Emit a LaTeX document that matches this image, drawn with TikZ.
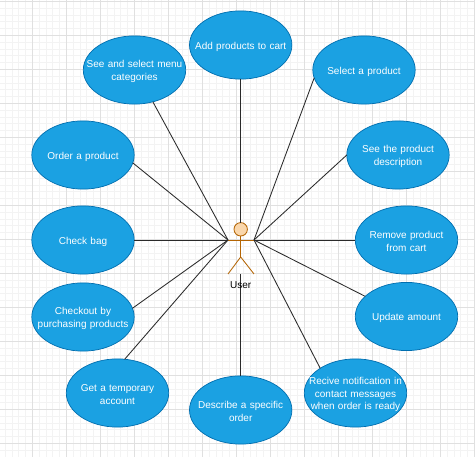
\documentclass[tikz,border=0pt]{standalone}
\usepackage{fontspec}
\setmainfont{Liberation Sans}
\usetikzlibrary{shapes.geometric}
\definecolor{ucfill}{HTML}{1BA1E2}
\definecolor{ucline}{HTML}{006EAF}
\definecolor{actfill}{HTML}{FAD7AC}
\definecolor{actline}{HTML}{B46504}
\definecolor{gridminor}{HTML}{F3F3F3}
\definecolor{gridmajor}{HTML}{E0E0E0}
\definecolor{conn}{HTML}{2A2A2A}
\tikzset{
  x=1pt,y=-1pt,
  usecase/.style={shape=ellipse,draw=ucline,fill=ucfill,line width=0.7pt,text=white,
    minimum width=102.4pt,minimum height=68.2pt,text width=110pt,align=center,
    inner xsep=-19pt,inner ysep=0pt,outer sep=0pt,
    execute at begin node={\mbox{}\\[-2.4pt]},
    font=\fontsize{10}{12.8}\selectfont},
  link/.style={draw=conn,line width=0.85pt},
  actorline/.style={draw=actline,line width=0.85pt},
}
\begin{document}
\begin{tikzpicture}
\useasboundingbox (0,0) rectangle (475,457);
\fill[white] (0,0) rectangle (475,457);
% grid
\foreach \i in {0,...,70} {
  \pgfmathsetmacro{\gx}{-1.7+6.8*\i}
  \pgfmathsetmacro{\gy}{1.3+6.8*\i}
  \draw[gridminor,line width=0.6pt] (\gx,0) -- (\gx,457);
  \draw[gridminor,line width=0.6pt] (0,\gy) -- (475,\gy);
}
\foreach \i in {0,...,14} {
  \pgfmathsetmacro{\gx}{-1.7+34*\i}
  \pgfmathsetmacro{\gy}{1.3+34*\i}
  \draw[gridmajor,line width=0.7pt] (\gx,0) -- (\gx,457);
  \draw[gridmajor,line width=0.7pt] (0,\gy) -- (475,\gy);
}
% use cases
\node[usecase] (add) at (240.7,45) {Add products to cart};
\node[usecase] (menu) at (134.5,70) {See and select menu\\categories};
\node[usecase] (select) at (364,70) {Select a product};
\node[usecase] (desc) at (398,155) {See the product\\description};
\node[usecase] (order) at (83,155) {Order a product};
\node[usecase] (bag) at (83,240) {Check bag};
\node[usecase] (remove) at (406.5,240) {Remove product\\from cart};
\node[usecase] (update) at (406.5,316.5) {Update amount};
\node[usecase] (checkout) at (83,317) {Checkout by\\purchasing products};
\node[usecase] (temp) at (117.5,393) {Get a temporary\\account};
\node[usecase] (notify) at (355.5,393) {Recive notification in\\contact messages\\when order is ready};
\node[usecase] (specific) at (240.7,410) {Describe a specific\\order};
% actor
\node[circle,draw=actline,fill=actfill,line width=0.85pt,minimum size=13.4pt,inner sep=0pt,outer sep=0pt] (head) at (240.7,229.3) {};
\coordinate (hip) at (240.7,257);
\coordinate (armL) at (228,240);
\coordinate (armR) at (254,240);
\coordinate (footL) at (228,274);
\coordinate (footR) at (254,274);
\coordinate (base) at (240.7,274);
\draw[actorline] (head.south) -- (hip);
\draw[actorline] (armL) -- (armR);
\draw[actorline] (footL) -- (hip) -- (footR);
% connectors
\draw[link] (menu.-60.6) -- (armL);
\draw[link] (order.-9) -- (armL);
\draw[link] (bag.east) -- (armL);
\draw[link] (checkout.10) -- (armL);
\draw[link] (temp.78) -- (armL);
\draw[link] (add.south) -- (head.north);
\draw[link] (specific.north) -- (base);
\draw[link] (select.-171) -- (armR);
\draw[link] (desc.west) -- (armR);
\draw[link] (remove.west) -- (armR);
\draw[link] (update.154.5) -- (armR);
\draw[link] (notify.145.6) -- (armR);
\node[inner sep=0pt,outer sep=0pt,font=\fontsize{10}{12.8}\selectfont,text=black] (user) at (240.7,285.5) {User};
\end{tikzpicture}
\end{document}
